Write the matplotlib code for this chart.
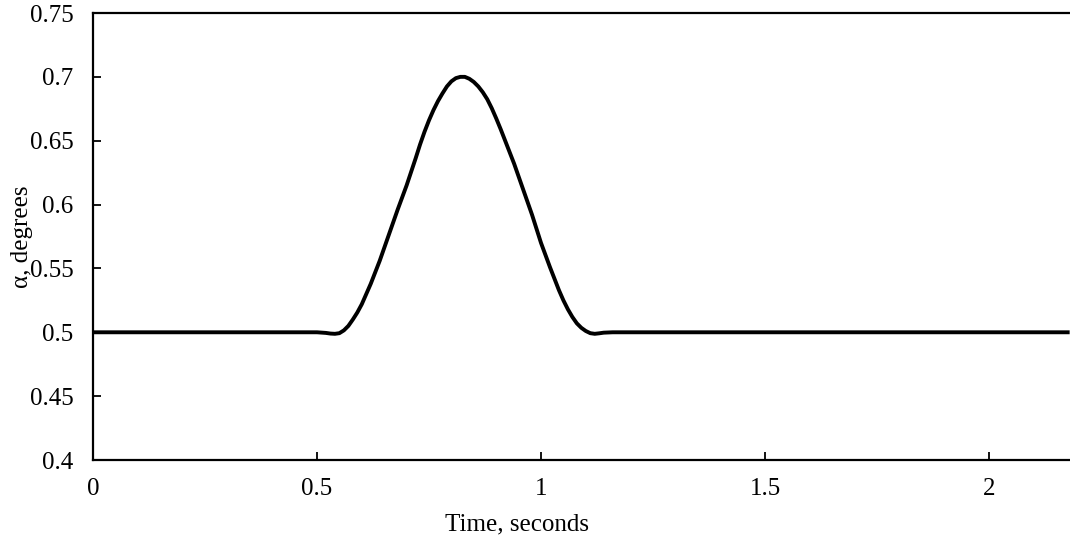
import matplotlib
matplotlib.use("Agg")
import matplotlib.pyplot as plt

time_s = [0.00, 0.50, 0.52, 0.53, 0.54, 0.55, 0.56, 0.57, 0.58, 0.59, 0.60, 0.62, 0.64, 0.66, 0.68,
          0.70, 0.72, 0.73, 0.74, 0.75, 0.76, 0.77, 0.78, 0.79, 0.80, 0.81, 0.82, 0.83, 0.84, 0.85,
          0.86, 0.87, 0.88, 0.89, 0.90, 0.91,
          0.92, 0.94, 0.96, 0.98, 1.00, 1.02, 1.04, 1.05, 1.06, 1.07, 1.08, 1.09, 1.10, 1.11, 1.12,
          1.13, 1.14, 1.16, 2.18]
alpha_deg = [0.500, 0.500, 0.4995, 0.4990, 0.4988, 0.4993, 0.5015, 0.5050, 0.5100, 0.5155, 0.522,
             0.538, 0.556, 0.576, 0.596,
             0.615, 0.636, 0.647, 0.657, 0.666, 0.674, 0.681, 0.687, 0.6925, 0.6965, 0.6990,
             0.7000, 0.7000, 0.6985, 0.6960,
             0.6925, 0.6880, 0.6825, 0.6755, 0.6675, 0.6590,
             0.650, 0.632, 0.612, 0.592, 0.570, 0.551, 0.533, 0.5250, 0.5180, 0.5120, 0.5070,
             0.5035, 0.5010, 0.4993, 0.4988, 0.4992, 0.4997, 0.500, 0.500]

x_ticks = [0, 0.5, 1, 1.5, 2]
x_tick_labels = ["0", "0.5", "1", "1.5", "2"]
y_ticks = [0.4, 0.45, 0.5, 0.55, 0.6, 0.65, 0.7, 0.75]
y_tick_labels = ["0.4", "0.45", "0.5", "0.55", "0.6", "0.65", "0.7", "0.75"]

plt.rcParams['font.family'] = ['Liberation Serif', 'DejaVu Serif']

fig = plt.figure(figsize=(10.70, 5.42), dpi=100)
W, H = 1070, 542
left, right, top, bottom = 93, 1070, 13, 460
ax = fig.add_axes([left / W, 1 - bottom / H, (right - left) / W, (bottom - top) / H])

ax.plot(time_s, alpha_deg, color='black', linewidth=2.8,
        solid_capstyle='butt', solid_joinstyle='round')

ax.set_xlim(0, (right - left) / 448.0)
ax.set_ylim(0.4, 0.75)
ax.set_xticks(x_ticks)
ax.set_xticklabels(x_tick_labels)
ax.set_yticks(y_ticks)
ax.set_yticklabels(y_tick_labels)

ax.spines['right'].set_visible(False)
for s in ['left', 'top', 'bottom']:
    ax.spines[s].set_linewidth(1.6)

ax.tick_params(axis='both', direction='in', length=6, width=1.3, labelsize=18, color='black')
ax.tick_params(axis='y', pad=14)
ax.tick_params(axis='x', pad=13)

ax.set_xlabel("Time, seconds", fontsize=18)
ax.set_ylabel("α, degrees", fontsize=18)
ax.xaxis.set_label_coords((517 - left) / (right - left), -(524 - bottom) / (bottom - top), transform=ax.transAxes)
ax.xaxis.label.set_va('center')
ax.yaxis.set_label_coords(-(93 - 22) / (right - left), 0.5)
ax.yaxis.label.set_va('center')

fig.savefig("out.png", dpi=100)
